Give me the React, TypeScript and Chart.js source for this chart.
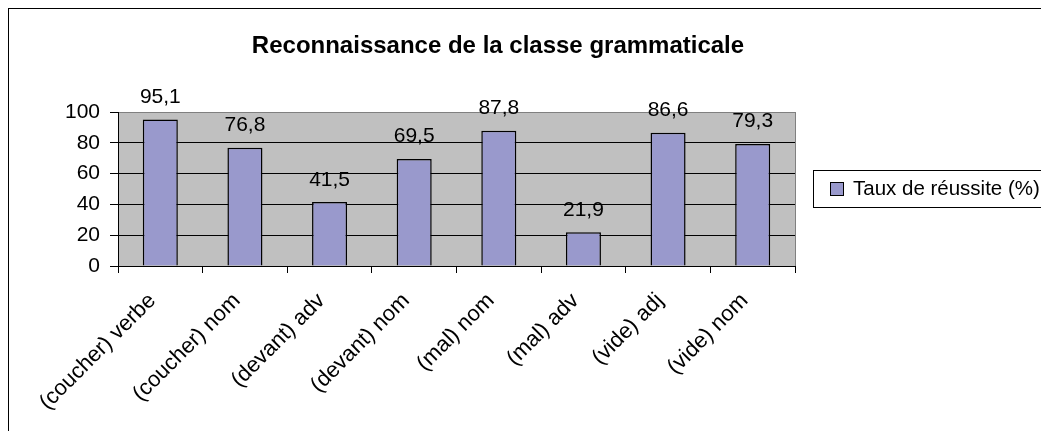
import React, { useEffect, useRef } from "react";
import { Chart, registerables } from "chart.js";

Chart.register(...registerables);

const categories = [
  "(coucher) verbe",
  "(coucher) nom",
  "(devant) adv",
  "(devant) nom",
  "(mal) nom",
  "(mal) adv",
  "(vide) adj",
  "(vide) nom",
];
const values = [95.1, 76.8, 41.5, 69.5, 87.8, 21.9, 86.6, 79.3];
const valueLabels = ["95,1", "76,8", "41,5", "69,5", "87,8", "21,9", "86,6", "79,3"];
const yTicks = [0, 20, 40, 60, 80, 100];
const seriesName = "Taux de réussite (%)";
const titleText = "Reconnaissance de la classe grammaticale";

const FONT = "'Liberation Sans', Arial, sans-serif";
const BAR_COLOR = "#9999CC";

const decorPlugin = {
  id: "decor",
  beforeDraw(chart: any) {
    const { ctx, chartArea } = chart;
    ctx.save();
    ctx.fillStyle = "#C0C0C0";
    ctx.fillRect(chartArea.left, chartArea.top, chartArea.right - chartArea.left, chartArea.bottom - chartArea.top);
    ctx.restore();
  },
  afterDraw(chart: any) {
    const { ctx, chartArea } = chart;
    ctx.save();
    // plot area right border
    ctx.strokeStyle = "#808080";
    ctx.lineWidth = 1;
    ctx.beginPath();
    ctx.moveTo(Math.round(chartArea.right) + 0.5, chartArea.top);
    ctx.lineTo(Math.round(chartArea.right) + 0.5, chartArea.bottom);
    ctx.stroke();

    // title
    ctx.fillStyle = "#000";
    ctx.font = `bold 24px ${FONT}`;
    ctx.textAlign = "center";
    ctx.textBaseline = "alphabetic";
    ctx.fillText(titleText, 489, 44);

    // data labels
    const meta = chart.getDatasetMeta(0);
    ctx.font = `21px ${FONT}`;
    meta.data.forEach((bar: any, i: number) => {
      ctx.fillText(valueLabels[i], bar.x, bar.y - 16.5);
    });

    // legend
    ctx.strokeStyle = "#000";
    ctx.lineWidth = 1;
    ctx.strokeRect(804.5, 161.5, 234, 37);
    ctx.fillStyle = BAR_COLOR;
    ctx.fillRect(821.5, 173.5, 13, 13);
    ctx.strokeRect(821.5, 173.5, 13, 13);
    ctx.fillStyle = "#000";
    ctx.textAlign = "left";
    ctx.textBaseline = "middle";
    ctx.font = `20.5px ${FONT}`;
    ctx.fillText(seriesName, 844, 180);
    ctx.restore();
  },
};

export default function App() {
  const ref = useRef<HTMLCanvasElement>(null);
  useEffect(() => {
    if (!ref.current) return;
    const chart = new Chart(ref.current, {
      type: "bar",
      data: {
        labels: categories,
        datasets: [
          {
            label: seriesName,
            data: values,
            backgroundColor: BAR_COLOR,
            borderColor: "#000",
            borderWidth: 1.5,
            barPercentage: 0.414,
            categoryPercentage: 1,
          },
        ],
      },
      options: {
        responsive: false,
        animation: false,
        events: [],
        layout: { padding: { left: 49, top: 103, right: 254, bottom: 5 } },
        plugins: {
          legend: { display: false },
          title: { display: false },
          tooltip: { enabled: false },
        },
        scales: {
          x: {
            grid: {
              offset: true,
              drawOnChartArea: false,
              drawTicks: true,
              tickLength: 7,
              color: "#000",
            },
            border: { color: "#000", width: 1 },
            ticks: {
              color: "#000",
              font: { family: FONT, size: 22 },
              maxRotation: 45,
              minRotation: 45,
              padding: 15,
              labelOffset: -8,
              autoSkip: false,
            },
            afterFit(scale: any) {
              scale.height = 160;
            },
          },
          y: {
            min: 0,
            max: 100,
            afterBuildTicks(scale: any) {
              scale.ticks = yTicks.map((v) => ({ value: v }));
            },
            grid: {
              color: (c: any) => (c.tick && c.tick.value === 100 ? "#808080" : "#000"),
              tickColor: "#000",
              tickLength: 8,
            },
            border: { color: "#000", width: 1 },
            ticks: {
              color: "#000",
              font: { family: FONT, size: 21 },
              padding: 10,
            },
            afterFit(scale: any) {
              scale.width = 60;
            },
          },
        },
      },
      plugins: [decorPlugin],
    });
    return () => chart.destroy();
  }, []);

  return (
    <div
      style={{
        position: "relative",
        width: 1042,
        height: 424,
        marginLeft: -1,
        marginTop: -1,
        borderTop: "2px solid #000",
        borderLeft: "2px solid #000",
        boxSizing: "border-box",
        background: "#fff",
      }}
    >
      <canvas ref={ref} width={1040} height={422} style={{ display: "block" }} />
    </div>
  );
}
